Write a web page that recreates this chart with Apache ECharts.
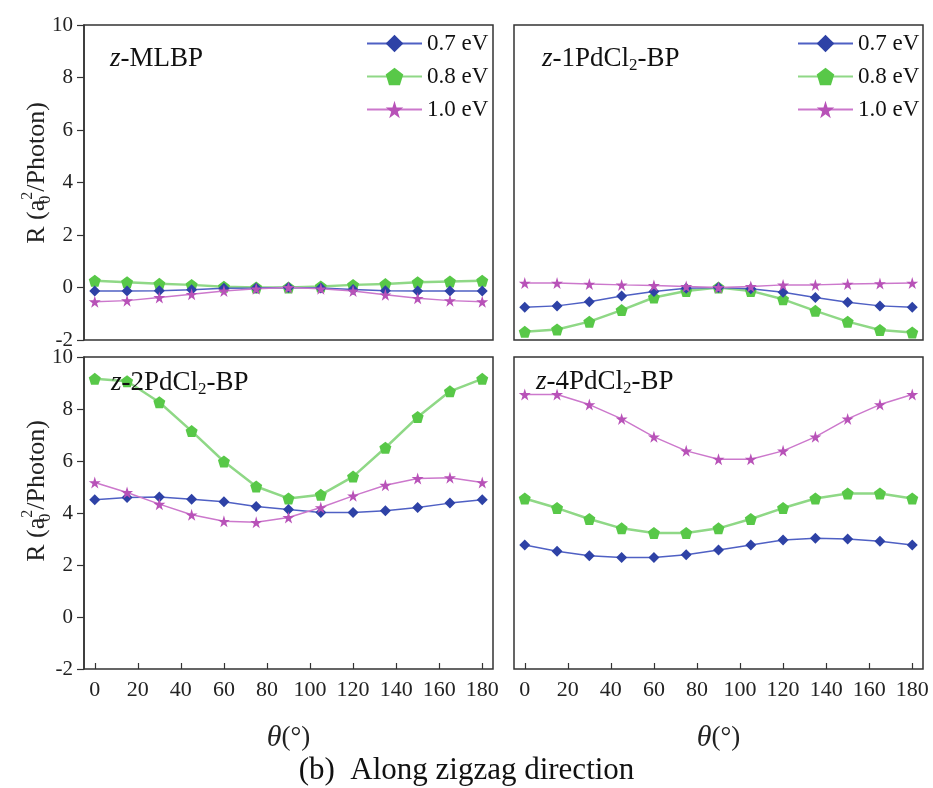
<!DOCTYPE html>
<html>
<head>
<meta charset="utf-8">
<script src="https://cdn.jsdelivr.net/npm/echarts@6/dist/echarts.min.js"></script>
<style>html,body{margin:0;padding:0;background:#fff}#c{width:933px;height:788px}</style>
</head>
<body>
<div id="c"></div>
<script>
// ---- data ----
const theta = [0, 15, 30, 45, 60, 75, 90, 105, 120, 135, 150, 165, 180];
const seriesNames = ['0.7 eV', '0.8 eV', '1.0 eV'];
const xTickValues = [0, 20, 40, 60, 80, 100, 120, 140, 160, 180];
const yTickValues = [-2, 0, 2, 4, 6, 8, 10];
const panelTitles = ['z-MLBP', 'z-1PdCl2-BP', 'z-2PdCl2-BP', 'z-4PdCl2-BP'];

// z-MLBP
const mlbp07 = [-0.13, -0.13, -0.12, -0.09, -0.03, -0.02, 0, -0.02, -0.08, -0.12, -0.13, -0.13, -0.13];
const mlbp08 = [0.26, 0.2, 0.14, 0.1, 0.03, 0.0, 0, 0.04, 0.1, 0.13, 0.2, 0.23, 0.26];
const mlbp10 = [-0.54, -0.5, -0.38, -0.26, -0.13, -0.05, 0, -0.05, -0.13, -0.28, -0.41, -0.5, -0.54];
// z-1PdCl2-BP
const pd1_07 = [-0.75, -0.7, -0.54, -0.32, -0.15, -0.03, 0, -0.05, -0.18, -0.38, -0.56, -0.7, -0.75];
const pd1_08 = [-1.69, -1.6, -1.3, -0.86, -0.38, -0.13, 0, -0.13, -0.45, -0.89, -1.3, -1.62, -1.71];
const pd1_10 = [0.17, 0.17, 0.13, 0.1, 0.08, 0.04, 0, 0.04, 0.1, 0.1, 0.13, 0.15, 0.17];
// z-2PdCl2-BP
const pd2_07 = [4.51, 4.6, 4.62, 4.53, 4.43, 4.25, 4.13, 4.02, 4.02, 4.09, 4.21, 4.38, 4.51];
const pd2_08 = [9.16, 9.07, 8.26, 7.15, 5.98, 5.02, 4.56, 4.7, 5.4, 6.51, 7.69, 8.68, 9.16];
const pd2_10 = [5.17, 4.79, 4.34, 3.93, 3.68, 3.64, 3.83, 4.21, 4.66, 5.07, 5.33, 5.36, 5.17];
// z-4PdCl2-BP
const pd4_07 = [2.77, 2.53, 2.36, 2.29, 2.29, 2.39, 2.58, 2.77, 2.96, 3.03, 3.0, 2.91, 2.77];
const pd4_08 = [4.56, 4.19, 3.77, 3.41, 3.23, 3.23, 3.41, 3.77, 4.19, 4.56, 4.75, 4.75, 4.56];
const pd4_10 = [8.56, 8.56, 8.17, 7.62, 6.93, 6.39, 6.07, 6.07, 6.39, 6.93, 7.62, 8.17, 8.56];

const panelData = [
  [mlbp07, mlbp08, mlbp10],
  [pd1_07, pd1_08, pd1_10],
  [pd2_07, pd2_08, pd2_10],
  [pd4_07, pd4_08, pd4_10]
];

// ---- styles ----
const FONT = '"Liberation Serif", "DejaVu Serif", serif';
const PENTAGON = 'path://M50,0 L100,38 L81,100 L19,100 L0,38 Z';
const STAR = 'path://M50,0 L61,35 L98,35 L68,57 L79,91 L50,70 L21,91 L32,57 L2,35 L39,35 Z';
const styles = [
  {symbol: 'diamond', size: 11, mark: '#2e42a6', line: '#4f60c4', width: 1.5},
  {symbol: PENTAGON, size: 12, mark: '#58c848', line: '#8fd886', width: 2.5},
  {symbol: STAR, size: 12, mark: '#b852b8', line: '#cc78cc', width: 1.5}
];

const grids = [
  {left: 84, top: 25, width: 409, height: 315},
  {left: 514, top: 25, width: 409, height: 315},
  {left: 84, top: 357, width: 409, height: 312},
  {left: 514, top: 357, width: 409, height: 312}
].map(g => Object.assign({show: true, borderColor: '#333', borderWidth: 1.5, backgroundColor: '#fff'}, g));

const xAxes = grids.map((g, i) => {
  const bottom = i >= 2;
  return {
    type: 'value', gridIndex: i, min: -5, max: 185, position: 'bottom',
    axisLine: {show: false, onZero: false},
    splitLine: {show: false},
    axisTick: {show: bottom, inside: true, length: 6, customValues: xTickValues, lineStyle: {color: '#333', width: 1.2}},
    axisLabel: {show: bottom, customValues: xTickValues, margin: 10, color: '#222', fontFamily: FONT, fontSize: 22},
    name: bottom ? '{i|θ}{n|(°)}' : '',
    nameLocation: 'middle', nameGap: 54,
    nameTextStyle: {rich: {
      i: {fontFamily: FONT, fontStyle: 'italic', fontSize: 30, color: '#222'},
      n: {fontFamily: FONT, fontSize: 27, color: '#222'}
    }}
  };
});

const yAxes = grids.map((g, i) => {
  const left = i % 2 === 0;
  return {
    type: 'value', gridIndex: i, min: -2, max: 10, interval: 2, position: 'left',
    axisLine: {show: left, onZero: false, lineStyle: {color: '#333', width: 1.5}},
    splitLine: {show: false},
    axisTick: {show: left, length: 7, lineStyle: {color: '#333', width: 1.2}},
    axisLabel: {show: left, margin: 11, color: '#222', fontFamily: FONT, fontSize: 21}
  };
});

const series = [];
panelData.forEach((arrs, p) => {
  arrs.forEach((vals, k) => {
    const st = styles[k];
    series.push({
      type: 'line', name: seriesNames[k], xAxisIndex: p, yAxisIndex: p,
      data: theta.map((t, j) => [t, vals[j]]),
      symbol: st.symbol, symbolSize: st.size, showAllSymbol: true,
      itemStyle: {color: st.mark},
      lineStyle: {color: st.line, width: st.width},
      z: k === 1 ? 2 : 3,
      animation: false
    });
  });
});

const legendBase = {
  orient: 'vertical', top: 27, itemWidth: 55, itemHeight: 22, itemGap: 10,
  data: seriesNames,
  textStyle: {fontFamily: FONT, fontSize: 23, color: '#111', padding: [0, 0, 0, 0]},
  selectedMode: false
};
const legends = [
  Object.assign({left: 361}, legendBase),
  Object.assign({left: 792}, legendBase)
];

const titleRich = {
  i: {fontFamily: FONT, fontStyle: 'italic', fontSize: 27, color: '#111', lineHeight: 32},
  n: {fontFamily: FONT, fontSize: 27, color: '#111', lineHeight: 32},
  s: {fontFamily: FONT, fontSize: 17, color: '#111', verticalAlign: 'bottom', lineHeight: 26}
};
function titleText(t) {
  // z-XPdCl2-BP -> rich text with italic z and subscript 2
  const rest = t.slice(1);
  const m = rest.match(/^(.*Cl)2(.*)$/);
  if (m) return '{i|z}{n|' + m[1] + '}{s|2}{n|' + m[2] + '}';
  return '{i|z}{n|' + rest + '}';
}
const titlePos = [[110, 61], [542, 61], [111, 385], [536, 384]];
const graphics = panelTitles.map((t, i) => ({
  type: 'text', left: titlePos[i][0], top: titlePos[i][1] - 16, z: 10,
  style: {text: titleText(t), rich: titleRich, fill: '#111'}
}));
// y-axis names (rotated)
const yNameRich = {
  t: {fontFamily: FONT, fontSize: 26, fill: '#222', lineHeight: 34},
  sub: {fontFamily: FONT, fontSize: 16, fill: '#222', verticalAlign: 'bottom', width: 0.1, lineHeight: 34},
  sup: {fontFamily: FONT, fontSize: 16, fill: '#222', verticalAlign: 'top', lineHeight: 34}
};
[[37, 173], [37, 491]].forEach(([x, y]) => {
  graphics.push({
    type: 'text', x: x, y: y, rotation: Math.PI / 2, z: 10,
    style: {text: '{t|R (a}{sub|0}{sup|2}{t|/Photon)}', rich: yNameRich, align: 'center', verticalAlign: 'middle', fill: '#222'}
  });
});
graphics.push({
  type: 'text', left: 'center', top: 755, z: 10,
  style: {text: '(b)  Along zigzag direction', fontFamily: FONT, fontSize: 31, fill: '#111'}
});

const chart = echarts.init(document.getElementById('c'), null, {renderer: 'canvas'});
chart.setOption({
  backgroundColor: '#fff',
  animation: false,
  grid: grids,
  xAxis: xAxes,
  yAxis: yAxes,
  legend: legends,
  series: series,
  graphic: graphics
});
</script>
</body>
</html>
